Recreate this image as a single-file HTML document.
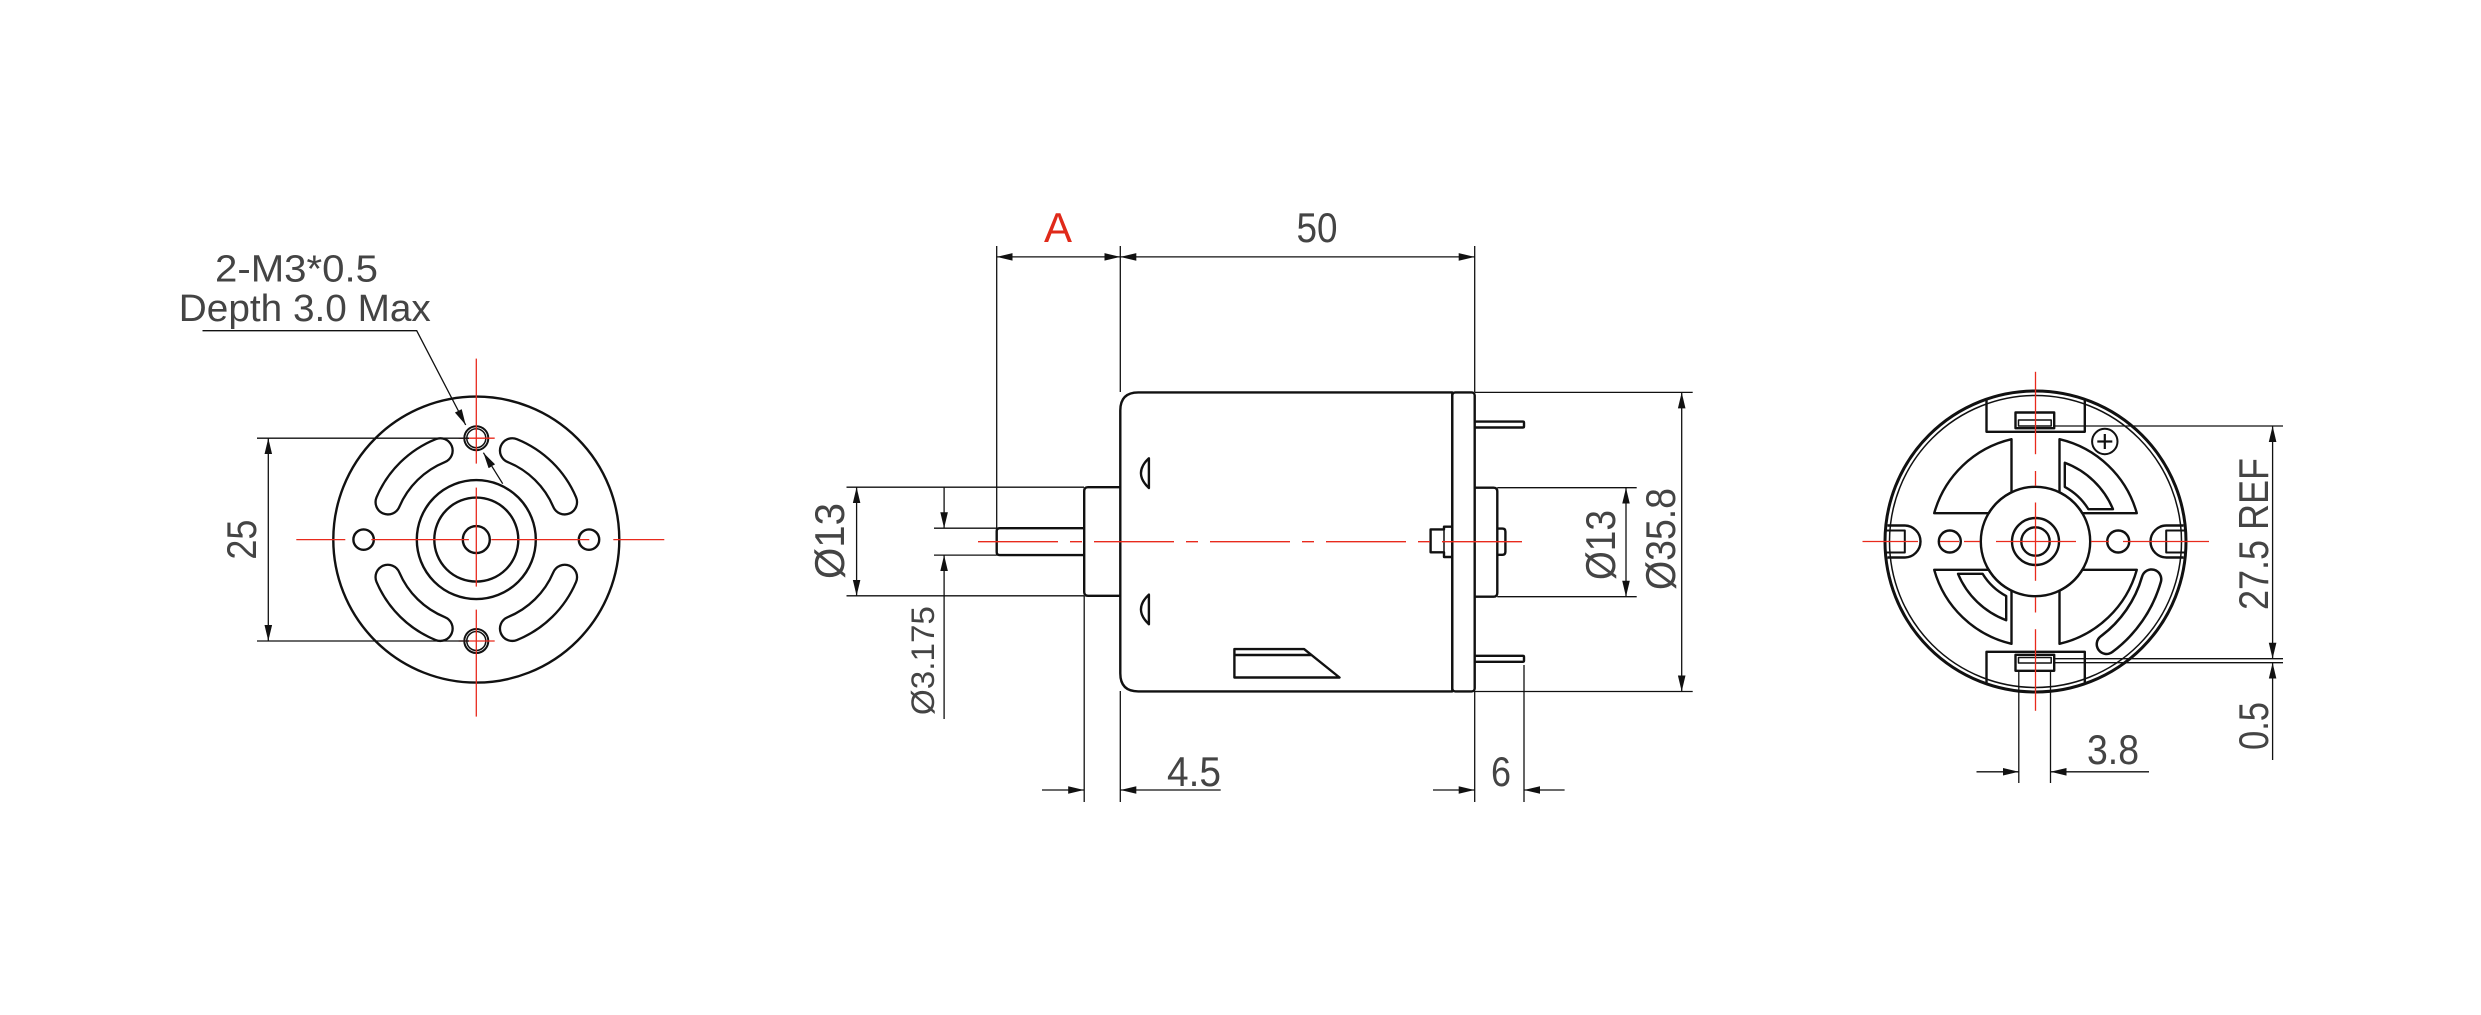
<!DOCTYPE html>
<html><head><meta charset="utf-8"><style>
html,body{margin:0;padding:0;background:#fff;}
svg{display:block;}
text{font-family:"Liberation Sans",sans-serif;fill:#444;}
</style></head><body>
<svg width="2481" height="1015" viewBox="0 0 2481 1015" xmlns="http://www.w3.org/2000/svg">
<defs>
<marker id="ar" viewBox="0 -4 16 8" refX="16" refY="0" markerWidth="16" markerHeight="8" markerUnits="userSpaceOnUse" orient="auto-start-reverse">
<path d="M0,-3.8 L16,0 L0,3.8 z" fill="#111"/></marker>
</defs>
<rect width="2481" height="1015" fill="#fff"/>

<!-- ============ LEFT VIEW ============ -->
<g fill="none" stroke="#111" stroke-width="2.4">
<circle cx="476.3" cy="539.6" r="143"/>
<circle cx="476.3" cy="539.6" r="59.5"/>
<circle cx="476.3" cy="539.6" r="42"/>
<circle cx="476.3" cy="539.6" r="13.5"/>
<circle cx="363.6" cy="539.6" r="10.2"/>
<circle cx="589" cy="539.6" r="10.2"/>
<circle cx="476.3" cy="438.2" r="12" stroke-width="2"/>
<circle cx="476.3" cy="438.2" r="9.5" stroke-width="1.5"/>
<circle cx="476.3" cy="641" r="12" stroke-width="2"/>
<circle cx="476.3" cy="641" r="9.5" stroke-width="1.5"/>
</g>
<!-- slots -->
<g fill="none" stroke-linecap="round">
<g stroke="#111" stroke-width="27">
<path d="M387.9 502.1 A96 96 0 0 1 440.3 450.6"/>
<path d="M564.7 502.1 A96 96 0 0 0 512.3 450.6"/>
<path d="M387.9 577.1 A96 96 0 0 0 440.3 628.6"/>
<path d="M564.7 577.1 A96 96 0 0 1 512.3 628.6"/>
</g>
<g stroke="#fff" stroke-width="22.4">
<path d="M387.9 502.1 A96 96 0 0 1 440.3 450.6"/>
<path d="M564.7 502.1 A96 96 0 0 0 512.3 450.6"/>
<path d="M387.9 577.1 A96 96 0 0 0 440.3 628.6"/>
<path d="M564.7 577.1 A96 96 0 0 1 512.3 628.6"/>
</g>
</g>
<g stroke="#e82a1c" stroke-width="1.3">
<line x1="476.3" y1="358.6" x2="476.3" y2="463.6"/>
<line x1="476.3" y1="487.6" x2="476.3" y2="586.6"/>
<line x1="476.3" y1="609.6" x2="476.3" y2="716.6"/>
<line x1="296.3" y1="539.6" x2="345.3" y2="539.6"/>
<line x1="371.3" y1="539.6" x2="468.9" y2="539.6"/>
<line x1="491.3" y1="539.6" x2="589.3" y2="539.6"/>
<line x1="613.3" y1="539.6" x2="664.3" y2="539.6"/>
<line x1="458.6" y1="438.2" x2="494.7" y2="438.2"/>
<line x1="458.6" y1="641" x2="494.7" y2="641"/>
</g>
<g stroke="#111" stroke-width="1.3" fill="none">
<line x1="257" y1="438.2" x2="469" y2="438.2"/>
<line x1="257" y1="641" x2="469" y2="641"/>
<line x1="268.3" y1="438.2" x2="268.3" y2="641" marker-start="url(#ar)" marker-end="url(#ar)"/>
<polyline points="202.5,330.7 416.7,330.7 465.7,425" marker-end="url(#ar)"/>
<line x1="502.7" y1="483.7" x2="483.4" y2="452.7" marker-end="url(#ar)"/>
</g>
<text x="215" y="281.6" font-size="38" textLength="163" lengthAdjust="spacingAndGlyphs">2-M3*0.5</text>
<text x="178.8" y="321" font-size="38" textLength="252" lengthAdjust="spacingAndGlyphs">Depth 3.0 Max</text>
<text transform="translate(256,539.6) rotate(-90)" text-anchor="middle" font-size="42" textLength="40" lengthAdjust="spacingAndGlyphs">25</text>

<!-- ============ MIDDLE VIEW ============ -->
<g fill="none" stroke="#111" stroke-width="2.4" stroke-linejoin="round">
<path d="M1138.3 392.4 H1452.3 V691.4 H1138.3 Q1120.3 691.4 1120.3 673.4 V410.4 Q1120.3 392.4 1138.3 392.4 Z"/>
<rect x="1452.3" y="392.4" width="22.4" height="299" rx="3"/>
<path d="M1120.3 487.2 H1088 Q1084.2 487.2 1084.2 491 V592 Q1084.2 595.8 1088 595.8 H1120.3"/>
<path d="M1084.2 528.2 H999.7 Q996.7 528.2 996.7 531.2 V552.1 Q996.7 555.1 999.7 555.1 H1084.2"/>
<path d="M1474.7 487.7 H1493.5 Q1497.3 487.7 1497.3 491.5 V592.9 Q1497.3 596.7 1493.5 596.7 H1474.7"/>
<path d="M1497.3 528.6 H1502.4 Q1505.4 528.6 1505.4 531.6 V551.8 Q1505.4 554.8 1502.4 554.8 H1497.3"/>
<path d="M1452.3 526.7 H1444 V529.4 H1430.6 V552.3 H1444 V557 H1452.3"/>
<line x1="1444" y1="529.4" x2="1444" y2="552.3" stroke-width="1.5"/>
<path d="M1474.7 421.6 H1523 Q1524 421.6 1524 422.6 V426.5 Q1524 427.5 1523 427.5 H1474.7"/>
<path d="M1474.7 655.8 H1523 Q1524 655.8 1524 656.8 V660.8 Q1524 661.8 1523 661.8 H1474.7"/>
<path d="M1148.9 458.3 Q1133 473 1148.9 488 Z"/>
<path d="M1148.9 594.6 Q1133 609.4 1148.9 624.2 Z"/>
<path d="M1234.4 649.1 H1304.1 L1339.5 677.5 H1234.4 Z"/>
<line x1="1234.4" y1="655" x2="1311" y2="655"/>
</g>
<line x1="978" y1="541.7" x2="1532" y2="541.7" stroke="#e82a1c" stroke-width="1.3" stroke-dasharray="80 12 12 12"/>
<g stroke="#111" stroke-width="1.3" fill="none">
<line x1="996.7" y1="246" x2="996.7" y2="528"/>
<line x1="1120.3" y1="246" x2="1120.3" y2="392"/>
<line x1="1120.3" y1="691" x2="1120.3" y2="802"/>
<line x1="1474.7" y1="246" x2="1474.7" y2="392"/>
<line x1="1474.7" y1="691" x2="1474.7" y2="802"/>
<line x1="1084.2" y1="596" x2="1084.2" y2="802"/>
<line x1="1524" y1="665" x2="1524" y2="802"/>
<line x1="996.7" y1="256.9" x2="1120.3" y2="256.9" marker-start="url(#ar)" marker-end="url(#ar)"/>
<line x1="1120.3" y1="256.9" x2="1474.7" y2="256.9" marker-start="url(#ar)" marker-end="url(#ar)"/>
<line x1="846.5" y1="487.2" x2="1084" y2="487.2"/>
<line x1="846.5" y1="595.8" x2="1084" y2="595.8"/>
<line x1="856.6" y1="487.2" x2="856.6" y2="595.8" marker-start="url(#ar)" marker-end="url(#ar)"/>
<line x1="934" y1="528.2" x2="996.7" y2="528.2"/>
<line x1="934" y1="555.1" x2="996.7" y2="555.1"/>
<line x1="944.1" y1="487.2" x2="944.1" y2="528.2" marker-end="url(#ar)"/>
<line x1="944.1" y1="719" x2="944.1" y2="555.1" marker-end="url(#ar)"/>
<line x1="1042" y1="790" x2="1084.2" y2="790" marker-end="url(#ar)"/>
<line x1="1220.7" y1="790" x2="1120.3" y2="790" marker-end="url(#ar)"/>
<line x1="1433" y1="790" x2="1474.7" y2="790" marker-end="url(#ar)"/>
<line x1="1564.6" y1="790" x2="1524" y2="790" marker-end="url(#ar)"/>
<line x1="1474.7" y1="392.4" x2="1692.7" y2="392.4"/>
<line x1="1474.7" y1="691.5" x2="1692.7" y2="691.5"/>
<line x1="1681.7" y1="392.4" x2="1681.7" y2="691.5" marker-start="url(#ar)" marker-end="url(#ar)"/>
<line x1="1497.3" y1="487.7" x2="1636.7" y2="487.7"/>
<line x1="1497.3" y1="596.7" x2="1636.7" y2="596.7"/>
<line x1="1626" y1="487.7" x2="1626" y2="596.7" marker-start="url(#ar)" marker-end="url(#ar)"/>
</g>
<text x="1058" y="242" text-anchor="middle" font-size="42" style="fill:#e02a1a" textLength="28" lengthAdjust="spacingAndGlyphs">A</text>
<text x="1317" y="242" text-anchor="middle" font-size="42" textLength="41" lengthAdjust="spacingAndGlyphs">50</text>
<text x="1194" y="786" text-anchor="middle" font-size="42" textLength="54" lengthAdjust="spacingAndGlyphs">4.5</text>
<text x="1501" y="786" text-anchor="middle" font-size="42" textLength="20" lengthAdjust="spacingAndGlyphs">6</text>
<text transform="translate(844,541) rotate(-90)" text-anchor="middle" font-size="42" textLength="76" lengthAdjust="spacingAndGlyphs">Ø13</text>
<text transform="translate(934,660.6) rotate(-90)" text-anchor="middle" font-size="32" textLength="109" lengthAdjust="spacingAndGlyphs">Ø3.175</text>
<text transform="translate(1615,545) rotate(-90)" text-anchor="middle" font-size="42" textLength="70" lengthAdjust="spacingAndGlyphs">Ø13</text>
<text transform="translate(1675,539) rotate(-90)" text-anchor="middle" font-size="42" textLength="102" lengthAdjust="spacingAndGlyphs">Ø35.8</text>

<!-- ============ RIGHT VIEW ============ -->
<g fill="none" stroke="#111" stroke-width="2.4" stroke-linejoin="round">
<circle cx="2035.5" cy="541.5" r="150.5" stroke-width="3"/>
<circle cx="2035.5" cy="541.5" r="146" stroke-width="1.5"/>
<circle cx="2035.5" cy="541.5" r="54.7"/>
<circle cx="2035.5" cy="541.5" r="23.5"/>
<circle cx="2035.5" cy="541.5" r="14.2"/>
<circle cx="1949.8" cy="541.5" r="11"/>
<circle cx="2118.2" cy="541.5" r="11"/>
<circle cx="2104.8" cy="441.5" r="12.7" stroke-width="2"/>
<path d="M1986.5 399.5 V431.8 H2084.8 V399.5"/>
<path d="M1986.5 683.5 V651.8 H2084.8 V683.5"/>
<rect x="2015.5" y="412.5" width="38.7" height="15.7"/>
<rect x="2018.5" y="420" width="32.7" height="6" stroke-width="1.5"/>
<rect x="2015.5" y="654.8" width="38.7" height="16"/>
<rect x="2018.5" y="657.5" width="32.7" height="5.5" stroke-width="1.5"/>
<path d="M2011.5 439.2 L2011.5 492.3 A54.7 54.7 0 0 0 1988.7 513.2 L1934.2 513.2 A105 105 0 0 1 2011.5 439.2 Z"/>
<path d="M2059.5 439.2 L2059.5 492.3 A54.7 54.7 0 0 1 2082.3 513.2 L2136.8 513.2 A105 105 0 0 0 2059.5 439.2 Z"/>
<path d="M2011.5 643.8 L2011.5 590.7 A54.7 54.7 0 0 1 1988.7 569.8 L1934.2 569.8 A105 105 0 0 0 2011.5 643.8 Z"/>
<path d="M2059.5 643.8 L2059.5 590.7 A54.7 54.7 0 0 0 2082.3 569.8 L2136.8 569.8 A105 105 0 0 1 2059.5 643.8 Z"/>
<path d="M2064.8 462.8 L2064.8 486.9 A62 62 0 0 1 2088.4 509.2 L2113 509.2 A84 84 0 0 0 2064.8 462.8 Z"/>
<path d="M2006.2 620.2 L2006.2 596.1 A62 62 0 0 1 1982.6 573.8 L1958 573.8 A84 84 0 0 0 2006.2 620.2 Z"/>
<path d="M1887.5 525.5 H1904.5 A16 16 0 0 1 1904.5 557.5 H1887.5"/>
<rect x="1885.5" y="530.5" width="19.3" height="22" stroke-width="2"/>
<path d="M2183.5 525.5 H2166.5 A16 16 0 0 0 2166.5 557.5 H2183.5"/>
<rect x="2166.2" y="530.5" width="19.3" height="22" stroke-width="2"/>
</g>
<g stroke="#111" stroke-width="2.2">
<line x1="2097.3" y1="441.5" x2="2112.3" y2="441.5"/>
<line x1="2104.8" y1="434" x2="2104.8" y2="449"/>
</g>
<g fill="none" stroke-linecap="round">
<path d="M2106.5 644.2 A123 123 0 0 0 2151.5 579.2" stroke="#111" stroke-width="22"/>
<path d="M2106.5 644.2 A123 123 0 0 0 2151.5 579.2" stroke="#fff" stroke-width="17"/>
</g>
<g stroke="#e82a1c" stroke-width="1.3">
<line x1="2035.5" y1="371.8" x2="2035.5" y2="454.2"/>
<line x1="2035.5" y1="471" x2="2035.5" y2="486"/>
<line x1="2035.5" y1="502.5" x2="2035.5" y2="580.8"/>
<line x1="2035.5" y1="597.5" x2="2035.5" y2="612.5"/>
<line x1="2035.5" y1="629.2" x2="2035.5" y2="710.8"/>
<line x1="1862.5" y1="541.5" x2="1918" y2="541.5"/>
<line x1="1940" y1="541.5" x2="1959" y2="541.5"/>
<line x1="1964" y1="541.5" x2="1980" y2="541.5"/>
<line x1="1996" y1="541.5" x2="2076" y2="541.5"/>
<line x1="2091" y1="541.5" x2="2109" y2="541.5"/>
<line x1="2123" y1="541.5" x2="2209" y2="541.5"/>
</g>
<g stroke="#111" stroke-width="1.3" fill="none">
<line x1="2054.2" y1="426" x2="2283" y2="426"/>
<line x1="2054.2" y1="658.7" x2="2283" y2="658.7"/>
<line x1="2054.2" y1="662.7" x2="2283" y2="662.7"/>
<line x1="2272.6" y1="426" x2="2272.6" y2="658.7" marker-start="url(#ar)" marker-end="url(#ar)"/>
<line x1="2272.6" y1="760" x2="2272.6" y2="662.7" marker-end="url(#ar)"/>
<line x1="2018.8" y1="670" x2="2018.8" y2="783"/>
<line x1="2050.5" y1="670" x2="2050.5" y2="783"/>
<line x1="1976.5" y1="771.8" x2="2018.8" y2="771.8" marker-end="url(#ar)"/>
<line x1="2149" y1="771.8" x2="2050.5" y2="771.8" marker-end="url(#ar)"/>
</g>
<text transform="translate(2268,534) rotate(-90)" text-anchor="middle" font-size="42" textLength="152" lengthAdjust="spacingAndGlyphs">27.5 REF</text>
<text transform="translate(2268,726) rotate(-90)" text-anchor="middle" font-size="42" textLength="48" lengthAdjust="spacingAndGlyphs">0.5</text>
<text x="2113" y="764" text-anchor="middle" font-size="42" textLength="52" lengthAdjust="spacingAndGlyphs">3.8</text>
</svg>
</body></html>
